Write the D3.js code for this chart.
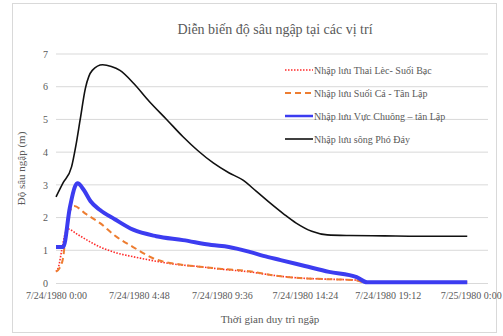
<!DOCTYPE html>
<html>
<head>
<meta charset="utf-8">
<script src="https://cdn.jsdelivr.net/npm/d3@7"></script>
<style>
    body { margin: 0; background: #fff; }
    svg, svg text { font-family: "Liberation Serif", serif !important; }
</style>
</head>
<body>
<div id="chart"></div>
<script>
// hours since 7/24/1980 0:00
const xTicks = [0, 4.8, 9.6, 14.4, 19.2, 24]
const xTickLabels = ['7/24/1980 0:00', '7/24/1980 4:48', '7/24/1980 9:36', '7/24/1980 14:24', '7/24/1980 19:12', '7/25/1980 0:00']
const yTicks = [0, 1, 2, 3, 4, 5, 6, 7]

const seriesNames = ['Nhập lưu Thai Lèc- Suối Bạc', 'Nhập lưu Suối Cá - Tân Lập', 'Nhập lưu Vực Chuông – tân Lập', 'Nhập lưu sông Phó Đáy']

const redT = [0, 0.15, 0.33, 0.5, 0.7, 1.2, 2.0, 2.55, 3.5, 4.5, 5.44, 6.8, 8.3, 9.6, 11.2, 12.5, 13.9, 15.5, 17.3, 17.9, 23.8]
const redV = [0.35, 0.5, 1.0, 1.45, 1.65, 1.5, 1.25, 1.1, 0.92, 0.8, 0.7, 0.58, 0.5, 0.42, 0.34, 0.24, 0.16, 0.12, 0.09, 0.03, 0.03]

const orangeT = [0, 0.2, 0.42, 0.6, 0.85, 1.05, 1.7, 2.55, 3.4, 4.46, 5.8, 7, 8.3, 9.6, 11.2, 12.5, 13.9, 15.5, 17.3, 17.9, 23.8]
const orangeV = [0.35, 0.45, 0.8, 1.7, 2.25, 2.35, 2.12, 1.83, 1.45, 1.1, 0.72, 0.58, 0.5, 0.43, 0.36, 0.24, 0.16, 0.12, 0.09, 0.02, 0.02]

const blueT = [0, 0.42, 0.8, 1.1, 1.25, 1.6, 2.0, 2.55, 3.4, 4.46, 5.8, 7.35, 9, 10, 11.2, 12, 13, 14.4, 15.8, 17.4, 18, 20, 23.8]
const blueV = [1.1, 1.1, 2.3, 2.95, 3.05, 2.85, 2.5, 2.23, 1.95, 1.63, 1.43, 1.31, 1.16, 1.1, 0.95, 0.83, 0.7, 0.52, 0.34, 0.18, 0.02, 0.02, 0.02]

const blackT = [0, 0.4, 0.9, 1.15, 1.4, 1.7, 2.1, 2.7, 3.2, 3.7, 4.5, 5.4, 6.4, 7.35, 8.2, 9.1, 10.0, 10.8, 11.6, 12.4, 13.2, 13.9, 14.8, 15.7, 17, 19, 21, 23.8]
const blackV = [2.63, 3.05, 3.55, 4.2, 5.0, 5.95, 6.5, 6.67, 6.62, 6.5, 6.1, 5.55, 5.0, 4.47, 4.05, 3.67, 3.37, 3.15, 2.8, 2.44, 2.1, 1.83, 1.58, 1.47, 1.45, 1.44, 1.43, 1.43]

const W = 503, H = 336
const M = { left: 56, right: 15, top: 54, bottom: 53 }

const svg = d3.select('#chart').append('svg')
    .attr('width', W)
    .attr('height', H)

svg.append('rect')
    .attr('x', 12.5).attr('y', 3.5)
    .attr('width', 484).attr('height', 329)
    .attr('fill', '#fff')
    .attr('stroke', '#d9d9d9')

const xScale = d3.scaleLinear().domain([0, 25]).range([M.left, W - M.right])
const yScale = d3.scaleLinear().domain([0, 7]).range([H - M.bottom, M.top])

// gridlines
svg.append('g')
    .selectAll('line')
    .data(yTicks.slice(1))
    .join('line')
    .attr('x1', xScale(0)).attr('x2', xScale(25))
    .attr('y1', d => yScale(d)).attr('y2', d => yScale(d))
    .attr('stroke', '#d9d9d9')
    .attr('stroke-width', 1)

const yAxis = d3.axisLeft(yScale).tickValues(yTicks).tickSize(0).tickPadding(8).tickFormat(d3.format('d'))
svg.append('g')
    .attr('transform', `translate(${M.left}, 0)`)
    .call(yAxis)
    .call(g => g.select('.domain').remove())
    .selectAll('text')
    .style('font-size', '10px')
    .attr('fill', '#595959')

const xAxis = d3.axisBottom(xScale).tickValues(xTicks).tickSize(0).tickPadding(9)
    .tickFormat((d, i) => xTickLabels[i])
svg.append('g')
    .attr('transform', `translate(0, ${yScale(0)})`)
    .call(xAxis)
    .call(g => g.select('.domain').attr('stroke', '#d9d9d9').attr('d', `M${xScale(0)},0.5H${xScale(25)}`))
    .selectAll('text')
    .style('font-size', '10px')
    .attr('fill', '#595959')

const line = d3.line()
    .x(d => xScale(d[0]))
    .y(d => yScale(d[1]))
    .curve(d3.curveMonotoneX)

const series = [
    { t: redT, v: redV, color: '#ff2a2a', width: 1.6, dash: '1.5,1.5' },
    { t: orangeT, v: orangeV, color: '#ed7d31', width: 2, dash: '6,4' },
    { t: blueT, v: blueV, color: '#3c3cf0', width: 4, dash: null },
    { t: blackT, v: blackV, color: '#111', width: 1.6, dash: null }
]

const drawOrder = [3, 0, 1, 2]
drawOrder.forEach(i => {
    const s = series[i]
    svg.append('path')
        .datum(s.t.map((t, j) => [t, s.v[j]]))
        .attr('fill', 'none')
        .attr('stroke', s.color)
        .attr('stroke-width', s.width)
        .attr('stroke-dasharray', s.dash)
        .attr('stroke-linejoin', 'round')
        .attr('d', line)
})

// legend
const legend = svg.append('g').attr('transform', 'translate(285, 70)')
series.forEach((s, i) => {
    const g = legend.append('g').attr('transform', `translate(0, ${i * 23})`)
    g.append('line')
        .attr('x1', 0).attr('x2', 28)
        .attr('stroke', s.color)
        .attr('stroke-width', Math.min(s.width, 2.5))
        .attr('stroke-dasharray', s.dash)
    g.append('text')
        .attr('x', 29).attr('y', 3.5)
        .attr('fill', '#595959')
        .style('font-size', '10px')
        .text(seriesNames[i])
})

svg.append('text')
    .attr('x', 275).attr('y', 34)
    .attr('text-anchor', 'middle')
    .attr('fill', '#595959')
    .style('font-size', '14px')
    .text('Diễn biến độ sâu ngập tại các vị trí')

svg.append('text')
    .attr('transform', `translate(25, ${yScale(3.5)}) rotate(-90)`)
    .attr('text-anchor', 'middle')
    .attr('fill', '#595959')
    .style('font-size', '11px')
    .text('Độ sâu ngập (m)')

svg.append('text')
    .attr('x', 270).attr('y', 323)
    .attr('text-anchor', 'middle')
    .attr('fill', '#595959')
    .style('font-size', '11px')
    .text('Thời gian duy trì ngập')
</script>
</body>
</html>
